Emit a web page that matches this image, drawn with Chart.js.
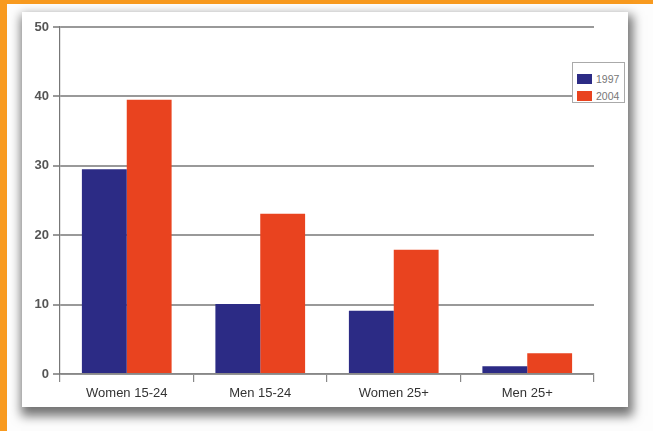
<!DOCTYPE html>
<html>
<head>
<meta charset="utf-8">
<script src="https://cdn.jsdelivr.net/npm/chart.js@4.4.0/dist/chart.umd.min.js"></script>
<style>
  html, body { margin: 0; padding: 0; }
  body { width: 653px; height: 431px; background: #F89A1F; position: relative; overflow: hidden; font-family: "Liberation Sans", Arial, sans-serif; }
  #panel { position: absolute; left: 7px; top: 4px; right: 0; bottom: 0; background: #fdfdfd; }
  #box { position: absolute; left: 22px; top: 12px; width: 606px; height: 395px; background: #fff;
         box-shadow: 2px 6px 10px 3px rgba(0,0,0,0.55); }
  #box canvas { position: absolute; left: 0; top: 0; }
  #legend { position: absolute; left: 550px; top: 50px; width: 53px; height: 41px; background: #fff;
            border: 1px solid #aaa; box-sizing: border-box; padding: 7px 0 0 4px; }
  .li { display: flex; align-items: center; height: 17px; font-size: 10.5px; color: #777; }
  .sw { width: 15px; height: 10px; margin-right: 4px; }
</style>
</head>
<body>
<div id="panel"></div>
<div id="box">
  <canvas id="c" width="606" height="395"></canvas>
  <div id="legend"></div>
</div>
<script>
const categories = ["Women 15-24", "Men 15-24", "Women 25+", "Men 25+"];
const seriesNames = ["1997", "2004"];
const values1997 = [29.5, 10.1, 9.1, 1.1];
const values2004 = [39.5, 23.1, 17.9, 3.0];
const seriesColors = ["#2C2B85", "#E9431F"];
const yTicks = [0, 10, 20, 30, 40, 50];

const datasets = [values1997, values2004].map((v, i) => ({
  label: seriesNames[i],
  data: v,
  backgroundColor: seriesColors[i],
  borderWidth: 0,
  categoryPercentage: 0.672,
  barPercentage: 1.0
}));

const leg = document.getElementById('legend');
datasets.forEach(d => {
  const row = document.createElement('div');
  row.className = 'li';
  const sw = document.createElement('span');
  sw.className = 'sw';
  sw.style.background = d.backgroundColor;
  row.appendChild(sw);
  row.appendChild(document.createTextNode(d.label));
  leg.appendChild(row);
});

new Chart(document.getElementById('c'), {
  type: 'bar',
  data: { labels: categories, datasets },
  options: {
    responsive: false,
    animation: false,
    layout: { padding: { left: 0, right: 34, top: 15, bottom: 0 } },
    plugins: { legend: { display: false }, tooltip: { enabled: false } },
    scales: {
      x: {
        grid: { display: true, drawOnChartArea: false, offset: true, color: '#888', lineWidth: 1.2, tickLength: 8 },
        border: { display: true, color: '#888', width: 1.2 },
        ticks: { color: '#333', font: { size: 13, family: '"Liberation Sans", Arial, sans-serif' }, padding: 4, maxRotation: 0 },
        afterFit: s => { s.height = 33; }
      },
      y: {
        min: 0, max: 50,
        afterBuildTicks: s => { s.ticks = yTicks.map(v => ({ value: v })); },
        grid: { color: '#999', lineWidth: 2, tickLength: 7 },
        border: { display: true, color: '#777', width: 1.2 },
        ticks: { color: '#555', font: { size: 13, weight: 'bold', family: '"Liberation Sans", Arial, sans-serif' }, padding: 4 },
        afterFit: s => { s.width = 38; }
      }
    }
  }
});
</script>
</body>
</html>
